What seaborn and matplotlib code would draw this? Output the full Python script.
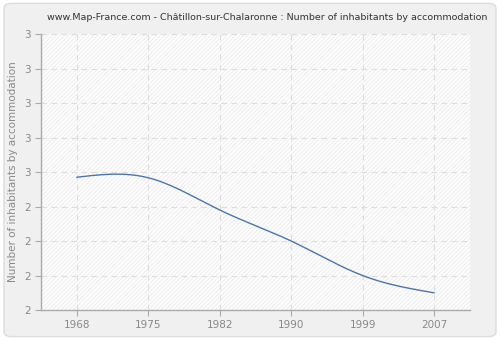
import numpy as np
import pandas as pd
import matplotlib
matplotlib.use("Agg")
import matplotlib.pyplot as plt
import seaborn as sns
from matplotlib.patches import FancyBboxPatch, Rectangle

years = ["1968", "1975", "1982", "1990", "1999", "2007"]
values = [2.57, 2.567, 2.38, 2.2, 2.0, 1.9]
ytick_values = [1.8, 2.0, 2.2, 2.4, 2.6, 2.8, 3.0, 3.2, 3.4]
ytick_labels = ["2", "2", "2", "2", "3", "3", "3", "3", "3"]
title = "www.Map-France.com - Châtillon-sur-Chalaronne : Number of inhabitants by accommodation"
ylabel = "Number of inhabitants by accommodation"

sns.set_theme(style="white")
plt.rcParams['font.family'] = ['DejaVu Sans']
plt.rcParams['hatch.linewidth'] = 0.5

def natural_spline(x, y, n=200):
    x = np.asarray(x, float); y = np.asarray(y, float)
    k = len(x); h = np.diff(x)
    A = np.zeros((k, k)); b = np.zeros(k)
    A[0, 0] = A[-1, -1] = 1
    for i in range(1, k - 1):
        A[i, i - 1] = h[i - 1]; A[i, i] = 2 * (h[i - 1] + h[i]); A[i, i + 1] = h[i]
        b[i] = 3 * ((y[i + 1] - y[i]) / h[i] - (y[i] - y[i - 1]) / h[i - 1])
    c = np.linalg.solve(A, b)
    xs = np.linspace(x[0], x[-1], n); ys = np.empty_like(xs)
    for j, xv in enumerate(xs):
        i = min(np.searchsorted(x, xv, side='right') - 1, k - 2)
        d = xv - x[i]
        bb = (y[i + 1] - y[i]) / h[i] - h[i] * (2 * c[i] + c[i + 1]) / 3
        dd = (c[i + 1] - c[i]) / (3 * h[i])
        ys[j] = y[i] + bb * d + c[i] * d ** 2 + dd * d ** 3
    return xs, ys

pos = np.arange(len(years))
xs, ys = natural_spline(pos, values)
df = pd.DataFrame({"x": xs, "y": ys})

fig = plt.figure(figsize=(5, 3.4), dpi=100, facecolor="white")
fig.patches.append(FancyBboxPatch((0.008, 0.01), 0.984, 0.98, boxstyle="round,pad=0,rounding_size=0.015",
                                  transform=fig.transFigure, facecolor="#f0f0f0", edgecolor="#dcdcdc",
                                  linewidth=1.0, zorder=-10))
ax = fig.add_axes([0.082, 0.088, 0.858, 0.812])
ax.set_facecolor("#fdfdfd")
ax.add_patch(Rectangle((0, 0), 1, 1, transform=ax.transAxes, facecolor="none",
                       edgecolor="#e8e8e8", hatch="////////", linewidth=0, zorder=0))

sns.lineplot(data=df, x="x", y="y", ax=ax, color="#4a76ad", linewidth=1.0, zorder=3)

ax.set_xlim(-0.5, len(years) - 0.5)
ax.set_ylim(1.8, 3.4)
ax.set_xticks(pos)
ax.set_xticklabels(years)
ax.set_yticks(ytick_values)
ax.set_yticklabels(ytick_labels)
ax.grid(True, color="#dddddd", linestyle=(0, (5, 4)), linewidth=0.8)
ax.set_axisbelow(True)
for s in ["top", "right"]:
    ax.spines[s].set_visible(False)
for s in ["left", "bottom"]:
    ax.spines[s].set_color("#aaaaaa")
    ax.spines[s].set_linewidth(1.0)
ax.tick_params(axis="both", colors="#aaaaaa", labelcolor="#888888", labelsize=7.5,
               length=4, width=0.8, direction="out", bottom=True, left=True)
ax.set_xlabel("")
ax.set_ylabel(ylabel, color="#888888", fontsize=7.5)
fig.text(0.534, 0.949, title, ha="center", va="center", fontsize=6.8, color="#333333")

fig.savefig("out.png", dpi=100, facecolor=fig.get_facecolor())
